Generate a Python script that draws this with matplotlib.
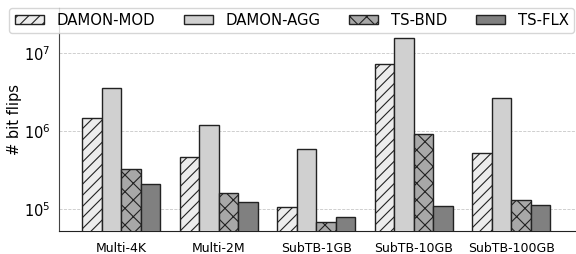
import numpy as np
import matplotlib
matplotlib.use("Agg")
import matplotlib.pyplot as plt

workloads = ["Multi-4K", "Multi-2M", "SubTB-1GB", "SubTB-10GB", "SubTB-100GB"]
damon_mod = [1.47e6, 4.7e5, 1.07e5, 7.2e6, 5.2e5]
damon_agg = [3.5e6, 1.2e6, 5.9e5, 1.54e7, 2.65e6]
ts_bnd = [3.3e5, 1.62e5, 6.75e4, 9.2e5, 1.3e5]
ts_flx = [2.07e5, 1.22e5, 7.8e4, 1.08e5, 1.11e5]

series = [("DAMON-MOD", damon_mod, "#ececec", "///"),
          ("DAMON-AGG", damon_agg, "#d0d0d0", ""),
          ("TS-BND", ts_bnd, "#a8a8a8", "xx"),
          ("TS-FLX", ts_flx, "#808080", "")]

plt.rcParams['hatch.linewidth'] = 0.8
fig = plt.figure(figsize=(5.76, 2.54), dpi=100)
ax = fig.add_axes([0.102, 0.09, 0.897, 0.88])

x = np.arange(len(workloads))
w = 0.2
for i, (name, vals, col, hat) in enumerate(series):
    ax.bar(x - 0.3 + i * w, vals, w, label=name, color=col, hatch=hat,
           edgecolor="#222222", linewidth=1, zorder=3)

ax.set_yscale("log")
ax.set_ylim(5.2e4, 3.8e7)
ax.set_xlim(-0.64, 4.66)
ax.set_xticks(x)
ax.set_xticklabels(workloads)
ax.set_ylabel("# bit flips", fontsize=10.5, labelpad=1)
ax.tick_params(axis="y", which="minor", left=False)
ax.tick_params(axis="y", labelsize=10.5, length=0, pad=6)
ax.tick_params(axis="x", labelsize=9, length=0, pad=8)
ax.yaxis.grid(True, which="major", linestyle="--", color="#c8c8c8", linewidth=0.6, zorder=0)
ax.spines["top"].set_visible(False)
ax.spines["right"].set_visible(False)
ax.spines["left"].set_color("#444444")
ax.spines["bottom"].set_color("#222222")

leg = ax.legend(ncol=4, loc="upper center", bbox_to_anchor=(0.451, 1.0), fontsize=10.7,
                frameon=True, handlelength=1.95, handleheight=0.55, handletextpad=0.85,
                columnspacing=1.95, borderpad=0.35, borderaxespad=0)
leg.get_frame().set_edgecolor("#cccccc")

fig.savefig("out.png", dpi=100)
